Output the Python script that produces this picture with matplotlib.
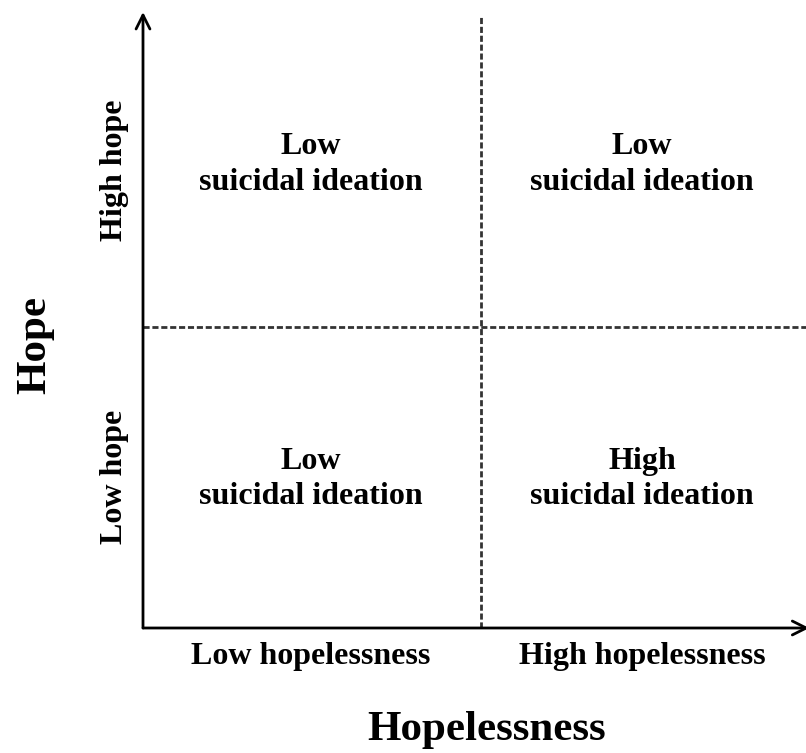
import matplotlib.pyplot as plt

plt.rcParams['font.family'] = ['Liberation Serif', 'DejaVu Serif']
plt.rcParams['font.weight'] = 'bold'

# quadrant labels (column: hopelessness low/high, row: hope low/high)
x_labels = ['Low hopelessness', 'High hopelessness']
y_labels = ['Low hope', 'High hope']
quadrants = {
    (0, 1): 'Low\nsuicidal ideation',
    (1, 1): 'Low\nsuicidal ideation',
    (0, 0): 'Low\nsuicidal ideation',
    (1, 0): 'High\nsuicidal ideation',
}
x_title = 'Hopelessness'
y_title = 'Hope'

W, H = 806, 753
fig = plt.figure(figsize=(W / 100, H / 100), dpi=100)
ax = fig.add_axes([143 / W, (H - 628) / H, 663 / W, 616 / H])
ax.set_xlim(0, 1.961)
ax.set_ylim(0, 2.047)
for s in ax.spines.values():
    s.set_visible(False)

# dashed dividers
ax.axvline(1, ymin=0, ymax=0.995, color='#333333', lw=2, ls=(0, (2.2, 1)))
ax.axhline(1, color='#333333', lw=2, ls=(0, (2.2, 1)))

# axis arrows
arrow = dict(arrowstyle='->', lw=2, color='black', mutation_scale=25,
             shrinkA=0, shrinkB=0)
ax.annotate('', xy=(0, 1.0), xytext=(0, 0), xycoords='axes fraction',
            arrowprops=arrow, annotation_clip=False)
ax.annotate('', xy=(1.005, 0), xytext=(0, 0), xycoords='axes fraction',
            arrowprops=arrow, annotation_clip=False)

xc = [0.497, 1.476]
yc = [0.495, 1.54]
for (i, j), txt in quadrants.items():
    ax.text(xc[i], yc[j], txt, ha='center', va='center', fontsize=23,
            linespacing=1.3)

ax.set_xticks(xc)
ax.set_xticklabels(x_labels, fontsize=23)
ax.set_yticks([0.502, 1.52])
ax.set_yticklabels(y_labels, fontsize=23, rotation=90, va='center')
ax.tick_params(length=0)
ax.tick_params(axis='x', pad=10)
ax.tick_params(axis='y', pad=10)

fig.text(487 / W, 1 - 730 / H, x_title, ha='center', va='center', fontsize=31)
fig.text(35 / W, 1 - 345 / H, y_title, ha='center', va='center', fontsize=31, rotation=90)

fig.savefig('out.png', dpi=100)
